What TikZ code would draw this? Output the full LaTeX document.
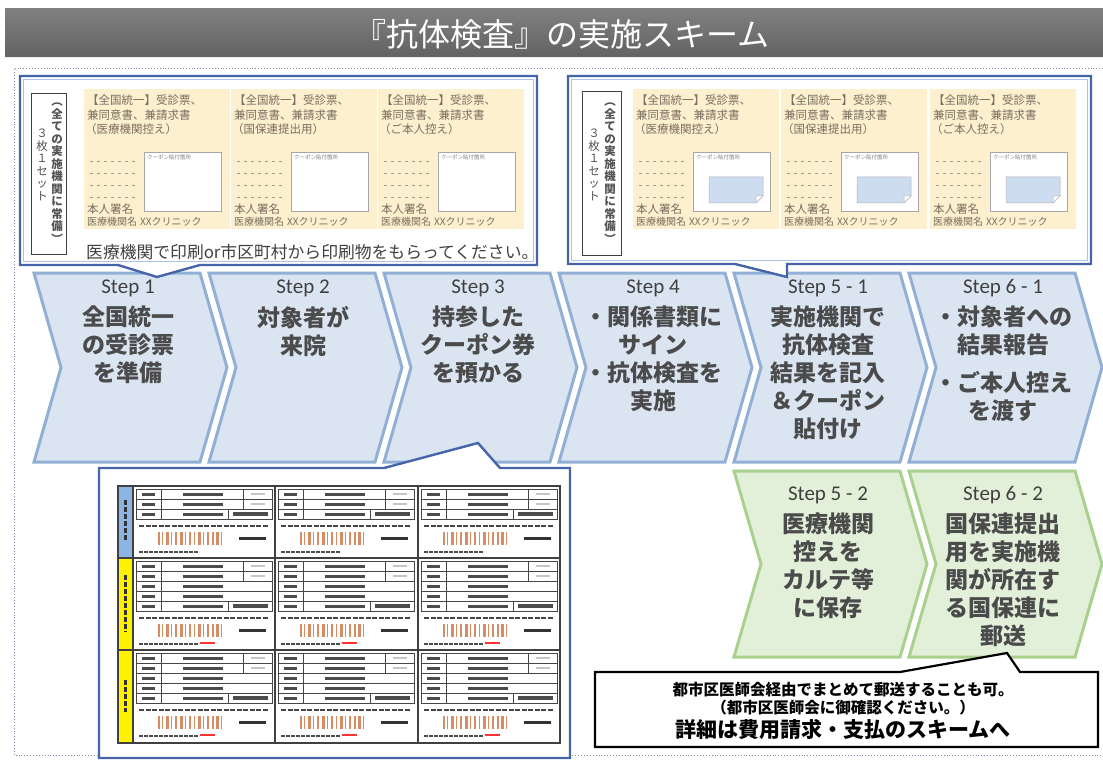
\documentclass[tikz,border=0pt]{standalone}
\usepackage{fontspec}
\setmainfont{Noto Sans CJK JP}
\newfontfamily\calfont{Carlito}
\usetikzlibrary{calc}
\definecolor{boxblue}{RGB}{70,100,170}
\definecolor{boxinner}{RGB}{170,195,230}
\definecolor{stepfill}{RGB}{219,229,242}
\definecolor{stepline}{RGB}{146,176,214}
\definecolor{gfill}{RGB}{226,239,217}
\definecolor{gline}{RGB}{169,209,142}
\definecolor{cardfill}{RGB}{253,240,207}
\definecolor{txtgray}{RGB}{64,64,64}
\definecolor{steptc}{RGB}{75,75,75}
\definecolor{cardtxt}{RGB}{120,110,95}
\definecolor{stickerc}{RGB}{205,220,240}
\definecolor{dotc}{RGB}{130,140,170}
\definecolor{barc}{RGB}{215,140,100}
\definecolor{stripblue}{RGB}{141,180,226}

\newcommand\chev[4]{%
  \draw[#4] (#1,#2) -- (#1+166,#2) -- (#1+193,{(#2+#3)/2}) -- (#1+166,#3) -- (#1,#3) -- (#1+27,{(#2+#3)/2}) -- cycle;}

\newcommand\cardbox[5]{%
  \fill[cardfill] (#1,#2) rectangle (#1+146,#2+140);
  \node[cardtext] (#4a) at (#1+3,#2+11) {【全国統一】受診票、};
  \node[cardtext] (#4b) at (#1+3,#2+26) {兼同意書、兼請求書};
  \node[cardtext] (#4c) at (#1+1,#2+40) {#3};
  \foreach \r in {0,1,2,3}
    \draw[cardtxt!70, dash pattern=on 3pt off 4pt, line width=0.8pt] (#1+6,#2+72+12*\r) -- (#1+54,#2+72+12*\r);
  \draw[gray!70, fill=white, line width=0.6pt] (#1+60,#2+63) rectangle (#1+137,#2+122);
  \node[tinytext] (#4d) at (#1+63,#2+68) {クーポン貼付箇所};
  \ifnum#5=1
    \draw[gray!60, fill=stickerc, line width=0.5pt] (#1+76,#2+88) -- (#1+130,#2+88) -- (#1+130,#2+107) -- (#1+123,#2+114) -- (#1+76,#2+114) -- cycle;
    \draw[gray!60, fill=white, line width=0.5pt] (#1+130,#2+107) -- (#1+123,#2+107) -- (#1+123,#2+114) -- cycle;
  \fi
  \node[cardtext] (#4e) at (#1+3,#2+120) {本人署名};
  \node[cardtext, font=\fontsize{10}{11}\selectfont] (#4f) at (#1+3,#2+133) {医療機関名};
  \node[cardtext, font=\fontsize{10}{11}\selectfont] (#4g) at (#1+56,#2+133) {XXクリニック};
}

\newcommand\ticket[4]{%
  \foreach \r in {1,...,#3}{
    \draw[gray!55!black, line width=0.6pt] (#1+3,{#2+10*(\r-1)}) rectangle (#1+139,{#2+10*\r});
    \draw[gray!55!black, line width=0.6pt] (#1+28,{#2+10*(\r-1)}) -- (#1+28,{#2+10*\r});
    \fill[gray!60!black] (#1+9,{#2+10*\r-6.5}) rectangle (#1+22,{#2+10*\r-3.5});
    \fill[gray!60!black] (#1+50,{#2+10*\r-6.5}) rectangle (#1+90,{#2+10*\r-3.5});
  }
  \foreach \r in {1,2}{
    \draw[gray!55!black, line width=0.6pt] (#1+110,{#2+10*(\r-1)}) -- (#1+110,{#2+10*\r});
    \fill[gray!45] (#1+118,{#2+10*\r-6}) rectangle (#1+132,{#2+10*\r-4});
  }
  \draw[gray!55!black, line width=0.6pt] (#1+95,{#2+10*#3-10}) -- (#1+95,{#2+10*#3});
  \fill[gray!60!black] (#1+100,{#2+10*#3-7}) rectangle (#1+135,{#2+10*#3-3});
  \draw[gray!55!black, line width=2.2pt, dash pattern=on 5pt off 1.5pt] (#1+6,{#2+10*#3+7}) -- (#1+136,{#2+10*#3+7});
  \foreach \b/\w in {25/2,29/1.2,33/2.5,38/1.2,42/2,47/3,52/1.2,56/2.2,61/1.2,65/2.8,70/1.2,74/2,79/1.5,83/2.5,88/1.2}
    \fill[barc] (#1+\b,{#2+10*#3+13}) rectangle (#1+\b+\w,{#2+10*#3+26});
  \fill[black!80] (#1+106,{#2+10*#3+18}) rectangle (#1+133,{#2+10*#3+21});
  \draw[gray!60!black, line width=1.6pt, dash pattern=on 4pt off 1pt] (#1+6,{#2+10*#3+33}) -- (#1+66,{#2+10*#3+33});
  \ifnum#4=1
    \draw[red!80, line width=1.6pt] (#1+67,{#2+10*#3+32}) -- (#1+82,{#2+10*#3+32});
  \fi
}

\begin{document}
\begin{tikzpicture}[x=1pt,y=-1pt,
  stepshape/.style={fill=stepfill, draw=stepline, line width=3pt, line join=miter},
  greenshape/.style={fill=gfill, draw=gline, line width=3pt, line join=miter},
  steplbl/.style={font=\calfont\fontsize{21}{24}\selectfont, text=txtgray, inner sep=0},
  steptxt/.style={font=\bfseries\fontsize{23}{28}\selectfont, text=steptc, align=center, inner sep=0, anchor=north},
  callbox/.style={fill=white, draw=boxblue, line width=2.4pt, line join=miter},
  cardtext/.style={font=\fontsize{11.5}{13}\selectfont, text=cardtxt, inner sep=0, anchor=west},
  tinytext/.style={font=\fontsize{5.5}{6}\selectfont, text=gray, inner sep=0, anchor=west},
  vtext/.style={font=\bfseries\fontsize{11.5}{12.5}\selectfont, text=txtgray!90, align=center, inner sep=0},
  notetext/.style={font=\bfseries\fontsize{15.5}{18}\selectfont, text=black, inner sep=0}
]
\useasboundingbox (0,0) rectangle (1103,762);
\fill[white] (0,0) rectangle (1103,762);

% title bar
\shade[top color={rgb,255:red,128;green,128;blue,128}, bottom color={rgb,255:red,98;green,98;blue,98}] (5,9) rectangle (1103,57);
\draw[white!85!gray, line width=1pt] (5,58) -- (1103,58);
\node[font=\fontsize{32}{36}\selectfont, text=white, inner sep=0] (title) at (562,34) {『抗体検査』の実施スキーム};

% dotted frame
\draw[dotc, dotted, line width=0.9pt] (1103,68) -- (14,68) -- (14,755) -- (1103,755);

% blue steps
\chev{34}{273}{462}{stepshape}
\chev{209}{273}{462}{stepshape}
\chev{384}{273}{462}{stepshape}
\chev{559}{273}{462}{stepshape}
\chev{734}{273}{462}{stepshape}
\chev{909}{273}{462}{stepshape}
% green steps
\chev{734}{471}{657}{greenshape}
\chev{909}{471}{657}{greenshape}

\node[steplbl] (s1l) at (128,288) {Step 1};
\node[steptxt] (s1t) at (128,306) {全国統一\\の受診票\\を準備};
\node[steplbl] (s2l) at (303,288) {Step 2};
\node[steptxt] (s2t) at (303,306) {対象者が\\来院};
\node[steplbl] (s3l) at (478,288) {Step 3};
\node[steptxt] (s3t) at (478,306) {持参した\\クーポン券\\を預かる};
\node[steplbl] (s4l) at (653,288) {Step 4};
\node[steptxt] (s4t) at (653,306) {・関係書類に\\サイン\\・抗体検査を\\実施};
\node[steplbl] (s51l) at (828,288) {Step 5 - 1};
\node[steptxt] (s51t) at (828,306) {実施機関で\\抗体検査\\結果を記入\\＆クーポン\\貼付け};
\node[steplbl] (s61l) at (1003,288) {Step 6 - 1};
\node[steptxt] (s61t) at (1003,306) {・対象者への\\結果報告\\[10pt]・ご本人控え\\を渡す};
\node[steplbl] (s52l) at (828,495) {Step 5 - 2};
\node[steptxt] (s52t) at (828,513) {医療機関\\控えを\\カルテ等\\に保存};
\node[steplbl] (s62l) at (1003,495) {Step 6 - 2};
\node[steptxt] (s62t) at (1003,513) {国保連提出\\用を実施機\\関が所在す\\る国保連に\\郵送};

% top-left callout
\draw[callbox] (20,76) -- (537,76) -- (537,265) -- (200,265) -- (157,277) -- (118,265) -- (20,265) -- cycle;
\draw[boxinner, line width=0.8pt] (23.5,79.5) rectangle (533.5,261.5);
\draw[txtgray, line width=0.9pt] (31,93) rectangle (66,254);
\node[vtext] (vl1) at (57,173) {︵\\全\\て\\の\\実\\施\\機\\関\\に\\常\\備\\︶};
\node[vtext, font=\fontsize{11.5}{12.5}\selectfont] (vl2) at (42,165) {３\\枚\\１\\セ\\ッ\\ト};
\cardbox{84}{89}{（医療機関控え）}{cL1}{0}
\cardbox{231}{89}{（国保連提出用）}{cL2}{0}
\cardbox{378}{89}{（ご本人控え）}{cL3}{0}
\node[font=\fontsize{16.8}{20}\selectfont, text=txtgray, inner sep=0, anchor=west] (print) at (86,252) {医療機関で印刷or市区町村から印刷物をもらってください。};

% top-right callout
\draw[callbox] (568,76) -- (1091,76) -- (1091,264) -- (787,264) -- (787,277) -- (735,264) -- (568,264) -- cycle;
\draw[boxinner, line width=0.8pt] (571.5,79.5) rectangle (1087.5,260.5);
\draw[txtgray, line width=0.9pt] (582,91) rectangle (621,255);
\node[vtext] (vr1) at (610,173) {︵\\全\\て\\の\\実\\施\\機\\関\\に\\常\\備\\︶};
\node[vtext, font=\fontsize{11.5}{12.5}\selectfont] (vr2) at (594,165) {３\\枚\\１\\セ\\ッ\\ト};
\cardbox{633}{89}{（医療機関控え）}{cR1}{1}
\cardbox{781}{89}{（国保連提出用）}{cR2}{1}
\cardbox{930}{89}{（ご本人控え）}{cR3}{1}

% coupon callout
\draw[callbox] (99,468) -- (384,468) -- (478,443) -- (500,468) -- (570,468) -- (570,758) -- (99,758) -- cycle;
\fill[stripblue] (118,486) rectangle (133,558);
\fill[yellow] (118,558) rectangle (133,743);
\draw[gray!40!black, line width=2.5pt, dash pattern=on 5pt off 2pt] (125.5,500) -- (125.5,540);
\draw[gray!40!black, line width=2.5pt, dash pattern=on 5pt off 2pt] (125.5,575) -- (125.5,632);
\draw[gray!40!black, line width=2.5pt, dash pattern=on 5pt off 2pt] (125.5,680) -- (125.5,712);
\foreach \tx in {133,275,418}{
  \ticket{\tx}{489}{3}{0}
  \ticket{\tx}{561}{5}{1}
  \ticket{\tx}{653}{5}{1}
}
\draw[gray!50!black, line width=1.3pt] (118,486) rectangle (560,743);
\draw[gray!50!black, line width=1.3pt] (133,486) -- (133,743) (275,486) -- (275,743) (418,486) -- (418,743) (118,558) -- (560,558) (118,650) -- (560,650);

% note callout
\draw[fill=white, draw=black, line width=2.2pt, line join=miter] (595,672) -- (900,672) -- (1007,653) -- (1020,672) -- (1098,672) -- (1098,747) -- (595,747) -- cycle;
\node[notetext] (n1) at (843,690) {都市区医師会経由でまとめて郵送することも可。};
\node[notetext] (n2) at (843,708) {（都市区医師会に御確認ください。）};
\node[notetext, font=\bfseries\fontsize{21}{24}\selectfont] (n3) at (843,729) {詳細は費用請求・支払のスキームへ};
\end{tikzpicture}
\end{document}
